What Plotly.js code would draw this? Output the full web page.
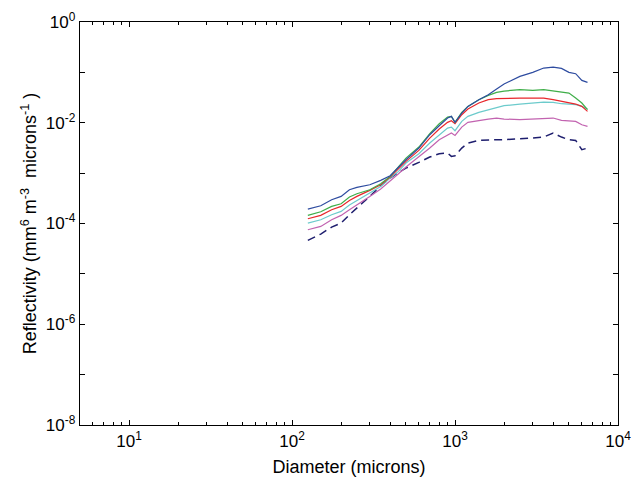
<!DOCTYPE html>
<html>
<head>
<meta charset="utf-8">
<script src="https://cdn.plot.ly/plotly-3.0.1.min.js"></script>
<style>html,body{margin:0;padding:0;background:#fff;}#chart{width:641px;height:480px;}</style>
</head>
<body>
<div id="chart"></div>
<script>
// Diameter bins (microns)
var diameter = [125,150,175,200,225,250,300,350,400,450,500,600,700,800,900,950,1000,1100,1200,1400,1600,1800,2000,2500,3000,3500,4000,4500,5000,5500,6000,6500];

// Reflectivity per series (mm^6 m^-3 microns^-1)
var blueSeries = [1.935e-4,2.253e-4,2.964e-4,3.452e-4,4.683e-4,5.209e-4,5.886e-4,7.174e-4,8.88e-4,1.320e-3,1.845e-3,3.146e-3,5.79e-3,8.73e-3,1.240e-2,1.338e-2,1.017e-2,1.558e-2,2.113e-2,2.866e-2,3.603e-2,4.668e-2,5.868e-2,8.327e-2,0.100,0.1219,0.1276,0.1201,0.100,9.41e-2,6.937e-2,6.33e-2];
var greenSeries = [1.448e-4,1.713e-4,2.186e-4,2.469e-4,3.349e-4,3.899e-4,4.683e-4,6.162e-4,8.615e-4,1.320e-3,1.991e-3,3.293e-3,6.059e-3,9.568e-3,1.298e-2,1.338e-2,1.017e-2,1.606e-2,2.113e-2,2.866e-2,3.495e-2,4.007e-2,4.26e-2,4.528e-2,4.391e-2,4.528e-2,4.26e-2,4.007e-2,3.888e-2,3.094e-2,2.461e-2,1.815e-2];
var redSeries = [1.243e-4,1.448e-4,1.877e-4,2.186e-4,2.875e-4,3.452e-4,4.541e-4,5.886e-4,8.355e-4,1.205e-3,1.710e-3,2.827e-3,4.969e-3,7.497e-3,1.017e-2,1.098e-2,9.568e-3,1.444e-2,1.871e-2,2.461e-2,2.866e-2,3.0e-2,3.046e-2,3.094e-2,3.094e-2,3.094e-2,2.866e-2,2.656e-2,2.537e-2,2.351e-2,2.113e-2,1.681e-2];
var cyanSeries = [1.02e-4,1.188e-4,1.493e-4,1.739e-4,2.323e-4,2.875e-4,4.144e-4,5.452e-4,7.98e-4,1.083e-3,1.585e-3,2.428e-3,3.954e-3,5.79e-3,7.85e-3,8.213e-3,6.946e-3,1.065e-2,1.338e-2,1.606e-2,1.815e-2,2.05e-2,2.179e-2,2.351e-2,2.461e-2,2.576e-2,2.537e-2,2.387e-2,2.351e-2,2.281e-2,2.113e-2,1.871e-2];
var magentaSeries = [7.52e-5,8.76e-5,1.188e-4,1.448e-4,1.877e-4,2.323e-4,3.452e-4,4.828e-4,6.852e-4,9.73e-4,1.320e-3,2.084e-3,3.146e-3,4.605e-3,5.79e-3,6.246e-3,5.614e-3,8.213e-3,1.017e-2,1.114e-2,1.184e-2,1.24e-2,1.184e-2,1.149e-2,1.184e-2,1.202e-2,1.24e-2,1.114e-2,1.098e-2,1.065e-2,9.14e-3,8.47e-3];
var dashedSeries = [4.618e-5,6.17e-5,8.5e-5,1.02e-4,1.493e-4,2.025e-4,3.452e-4,5.623e-4,7.98e-4,1.034e-3,1.261e-3,1.633e-3,2.084e-3,2.428e-3,2.503e-3,2.149e-3,2.215e-3,3.146e-3,3.954e-3,4.466e-3,4.605e-3,4.605e-3,4.605e-3,4.747e-3,4.969e-3,5.2e-3,6.246e-3,5.2e-3,4.605e-3,4.466e-3,2.914e-3,3.146e-3];

// Tick labels
var xTickVals = [10,100,1000,10000];
var xTickText = ['10<sup>1</sup>','10<sup>2</sup>','10<sup>3</sup>','10<sup>4</sup>'];
var yTickVals = [1,1e-2,1e-4,1e-6,1e-8];
var yTickText = ['10<sup>0</sup>','10<sup>-2</sup>','10<sup>-4</sup>','10<sup>-6</sup>','10<sup>-8</sup>'];
var yMinorVals = [1e-1,1e-3,1e-5,1e-7];

var minorX = [];
[1,10,100,1000].forEach(function(d){ for (var k=2;k<=9;k++){ var v=d*k; if (v>=5) minorX.push(v);} });

function tr(y, color, dash, w){
  return {x: diameter, y: y, type:'scatter', mode:'lines',
    line:{color:color, width:w||1.2, dash:dash||'solid'}, hoverinfo:'skip'};
}
var data = [
  tr(dashedSeries,'#1e1e6e','8px,5px',1.5),
  tr(magentaSeries,'#c263b0'),
  tr(cyanSeries,'#6ccbcc'),
  tr(redSeries,'#e8262b'),
  tr(greenSeries,'#3fae49'),
  tr(blueSeries,'#2e4ca0')
];

var fnt = {family:'"Liberation Sans", Arial, sans-serif', size:17, color:'#000'};
var layout = {
  width:641, height:480,
  margin:{l:80, r:23, t:22, b:55},
  paper_bgcolor:'#fff', plot_bgcolor:'#fff',
  showlegend:false,
  font: fnt,
  xaxis:{type:'log', range:[Math.log10(5),4], showgrid:false, zeroline:false,
    showline:true, linecolor:'#000', linewidth:1.3, mirror:'allticks',
    ticks:'inside', ticklen:5, tickcolor:'#000', tickwidth:1,
    tickmode:'array', tickvals:xTickVals, ticktext:xTickText, tickfont:fnt,
    minor:{tickmode:'array', tickvals:minorX, ticks:'inside', ticklen:3, tickcolor:'#000', tickwidth:1},
    title:{text:'Diameter (microns)', font:{family:fnt.family, size:18, color:'#000'}, standoff:10}},
  yaxis:{type:'log', range:[-8,0], showgrid:false, zeroline:false,
    showline:true, linecolor:'#000', linewidth:1.3, mirror:'allticks',
    ticks:'inside', ticklen:5, tickcolor:'#000', tickwidth:1,
    tickmode:'array', tickvals:yTickVals, ticktext:yTickText, tickfont:fnt,
    minor:{tickmode:'array', tickvals:yMinorVals, ticks:'inside', ticklen:5, tickcolor:'#000', tickwidth:1},
    title:{text:'Reflectivity (mm<sup>6</sup> m<sup>-3</sup>\u00a0 microns<sup>-1</sup>\u00a0)', font:{family:fnt.family, size:18, color:'#000'}, standoff:4}}
};
Plotly.newPlot('chart', data, layout, {staticPlot:true, displayModeBar:false});
</script>
</body>
</html>
